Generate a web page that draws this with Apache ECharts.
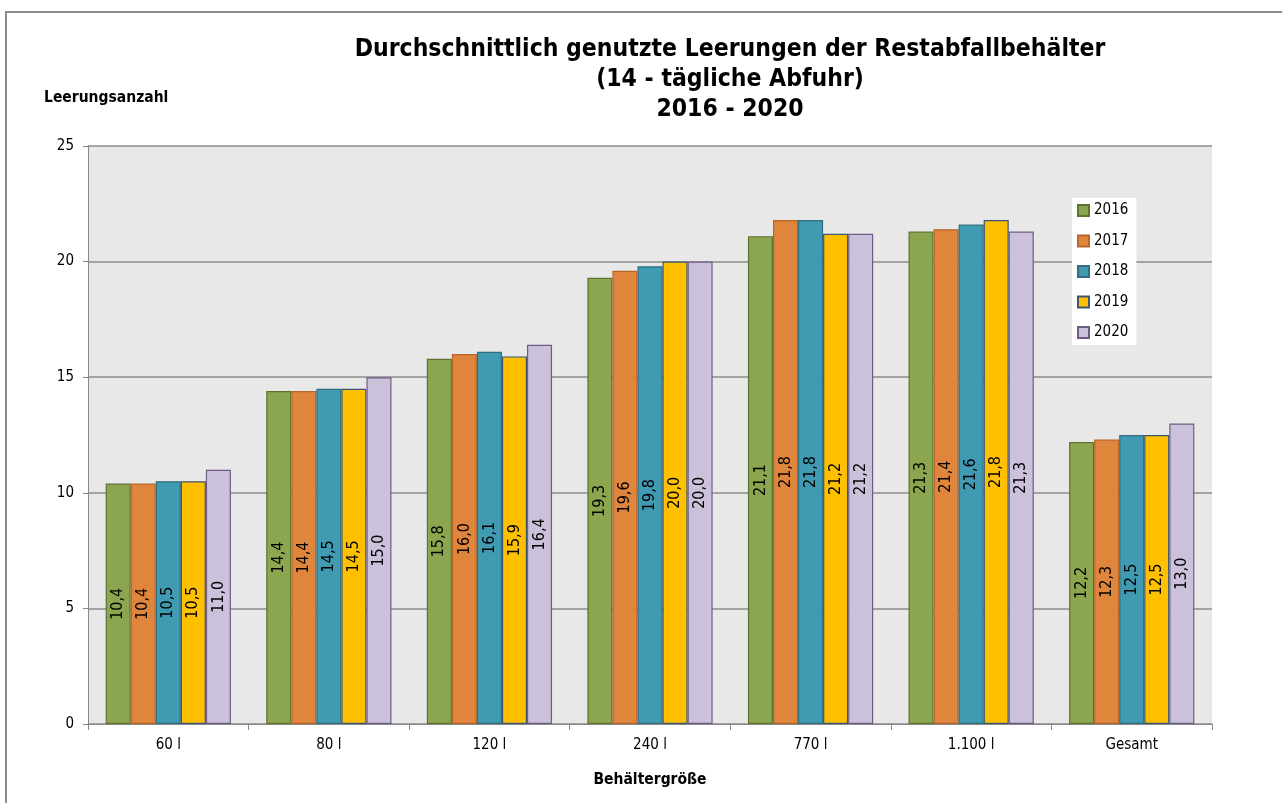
<!DOCTYPE html>
<html><head><meta charset="utf-8">
<script src="https://cdn.jsdelivr.net/npm/echarts@6/dist/echarts.min.js"></script>
<style>html,body{margin:0;padding:0;background:#fff}#c{width:1282px;height:803px}</style>
</head><body><div id="c"></div>
<script>
const categories = ['60 l', '80 l', '120 l', '240 l', '770 l', '1.100 l', 'Gesamt'];
const years = ['2016', '2017', '2018', '2019', '2020'];
const v2016 = [10.4, 14.4, 15.8, 19.3, 21.1, 21.3, 12.2];
const v2017 = [10.4, 14.4, 16.0, 19.6, 21.8, 21.4, 12.3];
const v2018 = [10.5, 14.5, 16.1, 19.8, 21.8, 21.6, 12.5];
const v2019 = [10.5, 14.5, 15.9, 20.0, 21.2, 21.8, 12.5];
const v2020 = [11.0, 15.0, 16.4, 20.0, 21.2, 21.3, 13.0];
const yTicks = [0, 5, 10, 15, 20, 25];

const values = [v2016, v2017, v2018, v2019, v2020];
const fills = ['#8BA64E', '#E0853C', '#409AB1', '#FFC000', '#CCC1DA'];
const borders = ['#5E7330', '#B8652A', '#2F6F80', '#3B5670', '#6E5C87'];
const FONT = 'DejaVu Sans Condensed';

const chart = echarts.init(document.getElementById('c'));
chart.setOption({
  backgroundColor: '#fff',
  animation: false,
  textStyle: { fontFamily: FONT },
  title: {
    text: 'Durchschnittlich genutzte Leerungen der Restabfallbehälter\n(14 - tägliche Abfuhr)\n2016 - 2020',
    left: 725, top: 30, textAlign: 'center',
    textStyle: { fontFamily: FONT, fontWeight: 'bold', fontSize: 24.5, lineHeight: 30, color: '#000' }
  },
  legend: {
    orient: 'vertical', left: 1072, top: 198,
    itemWidth: 11, itemHeight: 11, itemGap: 15.5, icon: 'rect',
    backgroundColor: '#fff', padding: [5, 8, 5, 5],
    textStyle: { fontFamily: FONT, fontSize: 15, color: '#000' },
    data: years
  },
  grid: { left: 88, right: 70, top: 146, bottom: 79, backgroundColor: '#E8E8E8', show: true, borderWidth: 0 },
  xAxis: {
    type: 'category', data: categories,
    name: 'Behältergröße', nameLocation: 'middle', nameGap: 48,
    nameTextStyle: { fontFamily: FONT, fontWeight: 'bold', fontSize: 15.5, color: '#000' },
    axisLine: { lineStyle: { color: '#888', width: 1 } },
    axisTick: { show: true, length: 6, lineStyle: { color: '#888' } },
    axisLabel: { fontFamily: FONT, fontSize: 15, color: '#000', margin: 14 }
  },
  yAxis: {
    type: 'value', min: yTicks[0], max: yTicks[yTicks.length - 1], interval: 5,
    name: 'Leerungsanzahl', nameLocation: 'end',
    nameTextStyle: { fontFamily: FONT, fontWeight: 'bold', fontSize: 15.5, color: '#000', align: 'left', padding: [0, 0, 25, -44] },
    axisLine: { show: true, lineStyle: { color: '#888', width: 1 } },
    axisTick: { show: true, length: 5, lineStyle: { color: '#888' } },
    axisLabel: { fontFamily: FONT, fontSize: 15, color: '#000', margin: 14 },
    splitLine: { lineStyle: { color: '#8C8C8C', width: 1.5 } }
  },
  graphic: [{
    type: 'polyline', silent: true, z: 100,
    shape: { points: [[6, 803], [6, 12], [1282, 12]] },
    style: { stroke: '#8C8C8C', lineWidth: 2, fill: null }
  }],
  series: years.map((y, i) => ({
    name: y, type: 'bar', data: values[i],
    barGap: '0%', barCategoryGap: '22%',
    itemStyle: { color: fills[i], borderColor: borders[i], borderWidth: 1.2 },
    label: {
      show: true, position: 'inside', rotate: 90,
      fontFamily: FONT, fontSize: 16, color: '#000',
      formatter: p => p.value.toFixed(1).replace('.', ',')
    }
  }))
});
</script></body></html>
